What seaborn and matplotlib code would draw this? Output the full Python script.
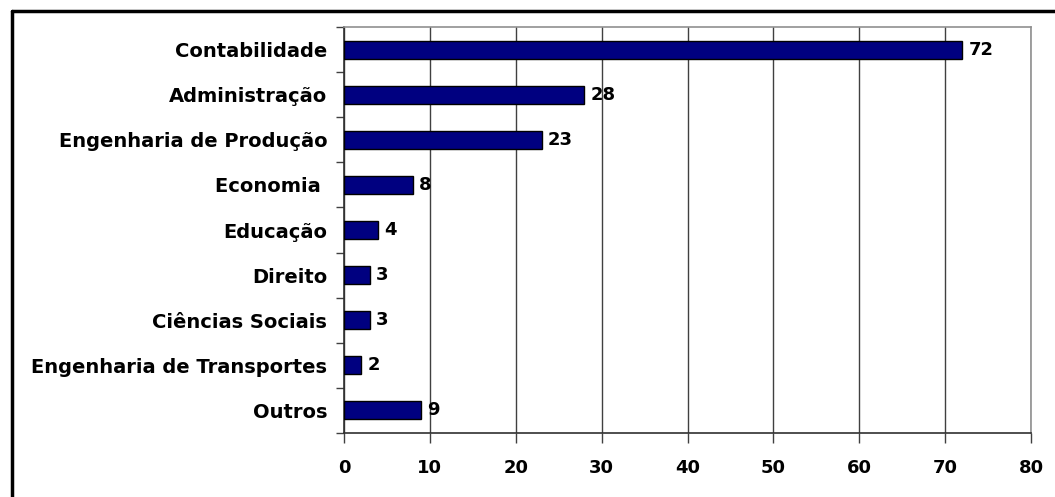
import matplotlib
matplotlib.use("Agg")
import matplotlib.pyplot as plt
import seaborn as sns
import pandas as pd
from matplotlib.lines import Line2D

categories = ["Contabilidade", "Administração", "Engenharia de Produção", "Economia ",
              "Educação", "Direito", "Ciências Sociais", "Engenharia de Transportes", "Outros"]
values = [72, 28, 23, 8, 4, 3, 3, 2, 9]
xticks = [0, 10, 20, 30, 40, 50, 60, 70, 80]

sns.set_theme(style="white")
plt.rcParams['font.family'] = ['DejaVu Sans']

df = pd.DataFrame({"cat": categories, "val": values})

fig = plt.figure(figsize=(10.55, 4.97), dpi=100)
ax = fig.add_axes([344/1055, 1-433/497, (1031-344)/1055, (433-27)/497])

sns.barplot(data=df, x="val", y="cat", orient="h", color="#000080", width=0.4,
            edgecolor="black", linewidth=1.0, saturation=1, ax=ax, zorder=3)

FS = 13
FS_LABEL = 14
ax.set_xlim(0, 80)
ax.set_ylim(len(categories) - 0.5, -0.5)
ax.set_xticks(xticks)
ax.set_xticklabels([str(t) for t in xticks], fontsize=FS, fontweight='bold', color='black')
ax.set_yticks(range(len(categories)))
ax.set_yticklabels(categories, fontsize=FS_LABEL, fontweight='bold', color='black')
ax.set_xlabel("")
ax.set_ylabel("")

ax.xaxis.grid(True, color="#404040", linewidth=1.0, zorder=0)
ax.set_axisbelow(True)

ax.set_yticks([i + 0.5 for i in range(-1, len(categories))], minor=True)
ax.tick_params(axis='y', which='major', length=0, pad=12)
ax.tick_params(axis='y', which='minor', length=6, width=1, color='#404040', direction='out', left=True)
ax.tick_params(axis='x', which='major', length=7, width=1, color='#404040', direction='out', bottom=True, pad=12)

for s in ["left", "bottom"]:
    ax.spines[s].set_color("#303030")
    ax.spines[s].set_linewidth(1.2)
for s in ["top", "right"]:
    ax.spines[s].set_color("#909090")
    ax.spines[s].set_linewidth(1.2)

for i, v in enumerate(values):
    ax.annotate(str(v), xy=(v, i), xytext=(4.5, 0), textcoords="offset points",
                va="center", ha="left", fontsize=FS, fontweight="bold", color="black")

fig.add_artist(Line2D([11.5/1055, 11.5/1055], [0, 1-11/497], color="black", lw=2.5,
                      transform=fig.transFigure))
fig.add_artist(Line2D([11.5/1055, 1], [1-11/497, 1-11/497], color="black", lw=2.5,
                      transform=fig.transFigure))

fig.savefig("out.png", dpi=100)
